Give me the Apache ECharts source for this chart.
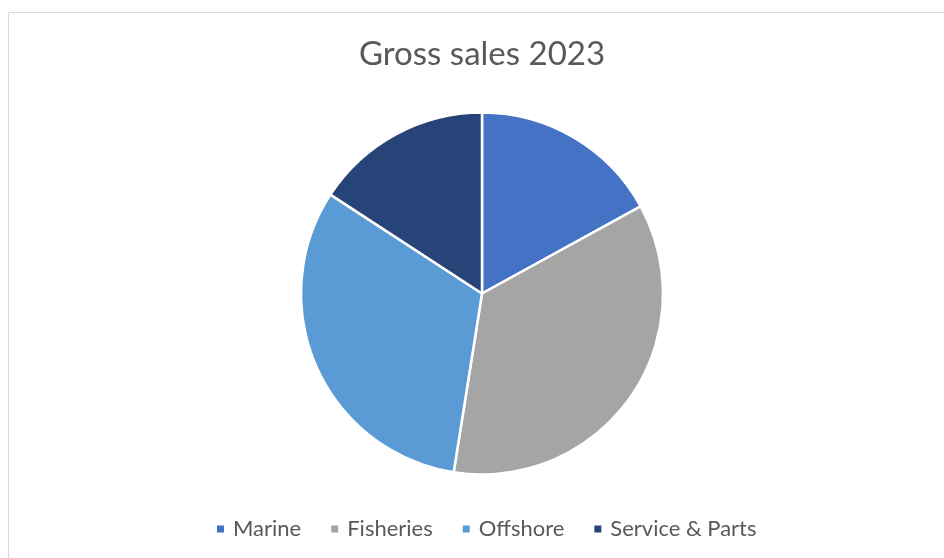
<!DOCTYPE html>
<html>
<head>
<meta charset="utf-8">
<script src="https://cdn.jsdelivr.net/npm/echarts@6/dist/echarts.min.js"></script>
<style>
  html, body { margin: 0; padding: 0; background: #fff; }
  #chart { width: 944px; height: 558px; }
</style>
</head>
<body>
<div id="chart"></div>
<script>
// Gross sales 2023 by business segment (share of total)
const categories = ['Marine', 'Fisheries', 'Offshore', 'Service & Parts'];
const salesShare = [17.0, 35.5, 31.7, 15.8];
const segmentColors = ['#4472C4', '#A5A5A5', '#5B9BD5', '#264478'];
const chartTitle = 'Gross sales 2023';

const chart = echarts.init(document.getElementById('chart'), null, { renderer: 'canvas' });

const FONT = 'Lato';

chart.setOption({
  backgroundColor: '#ffffff',
  animation: false,
  color: segmentColors,
  legend: {
    data: categories,
    top: 513,
    left: 210,
    icon: 'rect',
    itemWidth: 9,
    itemHeight: 9,
    itemGap: 28,
    textStyle: { fontFamily: FONT, fontSize: 22, lineHeight: 22, color: '#595959', padding: [0, 0, 0, 3] }
  },
  graphic: [{
    type: 'rect',
    shape: { x: 8.5, y: 12.5, width: 960, height: 580 },
    style: { fill: null, stroke: '#d9d9d9', lineWidth: 1 },
    silent: true,
    z: -1
  }, {
    type: 'text',
    x: 482,
    y: 54,
    silent: true,
    style: {
      text: chartTitle,
      fontFamily: FONT,
      fontSize: 33,
      fill: '#595959',
      textAlign: 'center',
      textVerticalAlign: 'middle'
    }
  }],
  series: [{
    type: 'pie',
    center: [482, 293.5],
    radius: 181,
    startAngle: 90,
    clockwise: true,
    label: { show: false },
    labelLine: { show: false },
    emphasis: { disabled: true },
    itemStyle: { borderColor: '#ffffff', borderWidth: 2.5 },
    data: categories.map((name, i) => ({ name: name, value: salesShare[i] }))
  }]
});
</script>
</body>
</html>
